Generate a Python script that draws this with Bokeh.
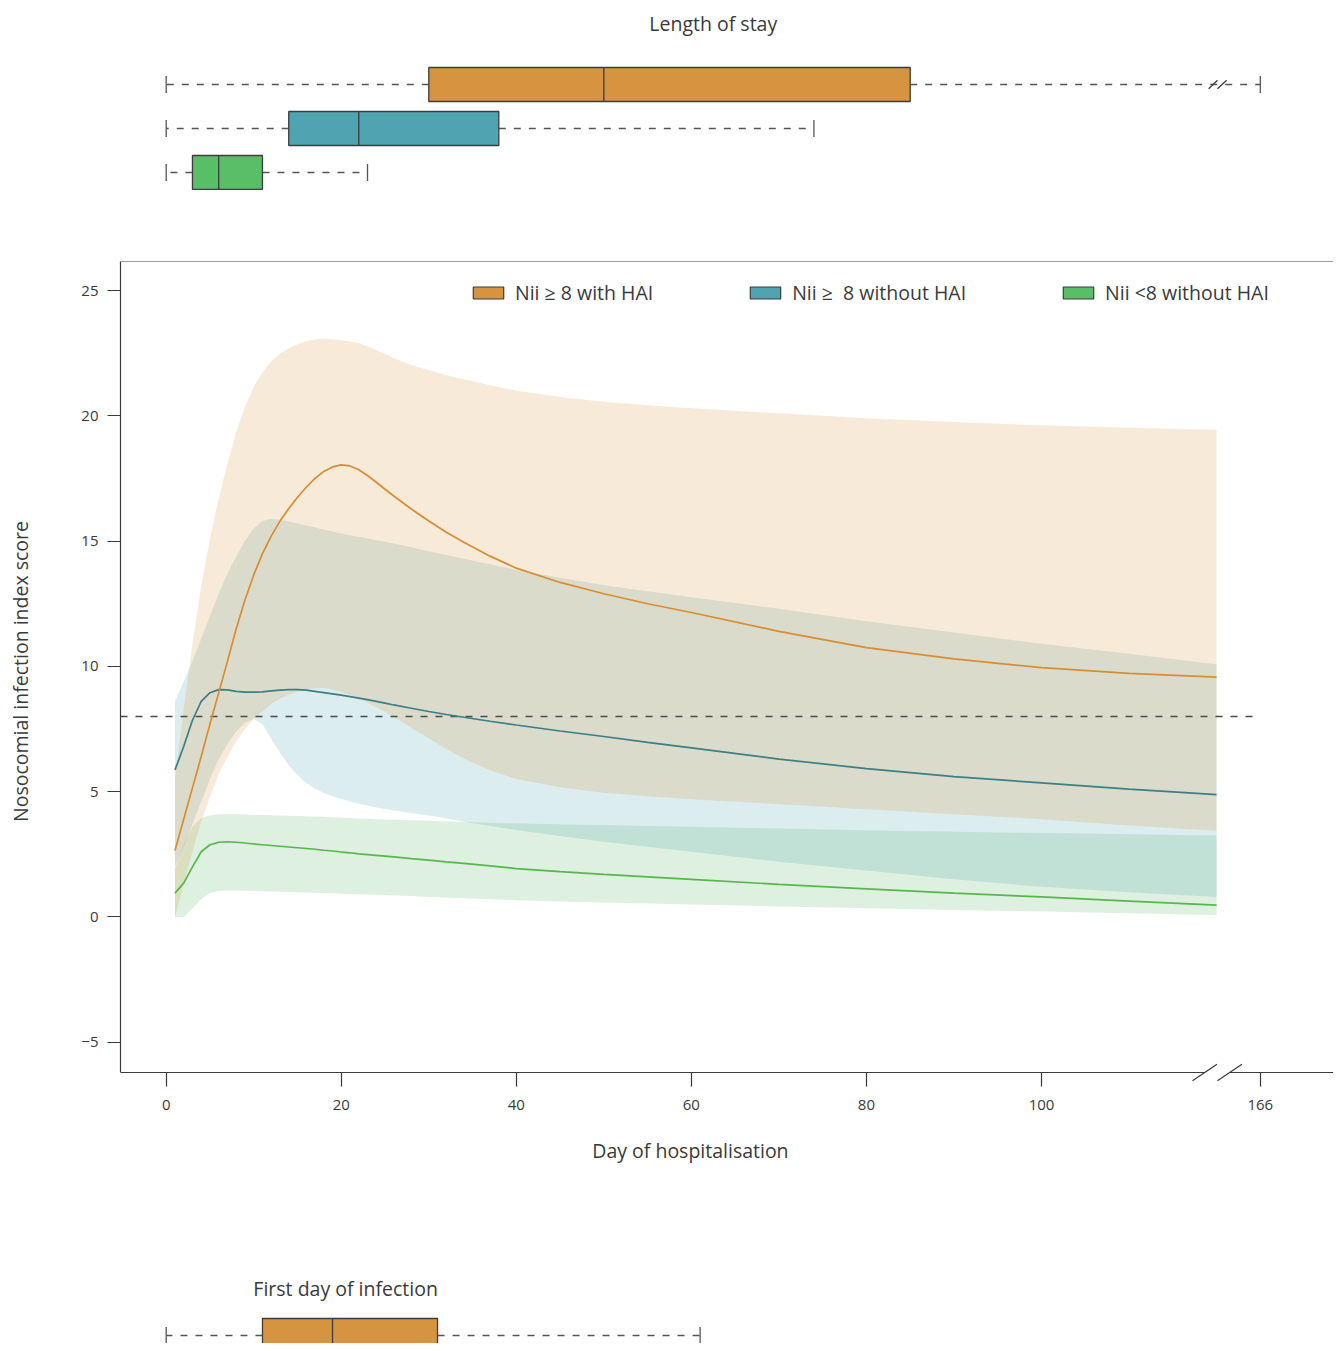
from bokeh.plotting import figure
from bokeh.layouts import column
from bokeh.models import (Range1d, FixedTicker, Span, Label, Legend, LegendItem,
                          ColumnDataSource)
from bokeh.embed import file_html
from bokeh.resources import INLINE

# ---------------- data ----------------
days = [1, 2, 3, 4, 5, 6, 7, 8, 9, 10, 11, 12, 13, 14, 15, 16, 17, 18, 19, 20, 21, 22,
        23, 24, 25, 26, 28, 30, 32, 34, 37, 40, 45, 50, 55, 60, 70, 80, 90, 100, 110, 120]

orange_mid = [2.65, 3.9, 5.15, 6.4, 7.7, 8.95, 10.2, 11.5, 12.65, 13.65, 14.5, 15.2, 15.8,
              16.3, 16.75, 17.15, 17.5, 17.78, 17.96, 18.04, 18.0, 17.85, 17.62, 17.35,
              17.07, 16.8, 16.28, 15.8, 15.35, 14.95, 14.4, 13.92, 13.35, 12.9, 12.5,
              12.15, 11.4, 10.75, 10.3, 9.95, 9.72, 9.57]
orange_hi = [5.5, 8.3, 10.9, 13.2, 15.1, 16.7, 18.1, 19.35, 20.35, 21.15, 21.75, 22.17,
             22.47, 22.7, 22.86, 22.98, 23.05, 23.08, 23.06, 23.02, 22.97, 22.9, 22.78,
             22.63, 22.47, 22.3, 22.03, 21.82, 21.63, 21.46, 21.22, 21.0, 20.75, 20.56,
             20.42, 20.3, 20.1, 19.9, 19.75, 19.62, 19.52, 19.44]
orange_lo = [0.0, 1.3, 2.6, 3.8, 4.8, 5.7, 6.4, 7.0, 7.5, 7.9, 8.2, 8.5, 8.72, 8.88, 9.0,
             9.08, 9.13, 9.14, 9.08, 8.98, 8.86, 8.72, 8.55, 8.37, 8.18, 7.98, 7.55, 7.12,
             6.7, 6.32, 5.85, 5.5, 5.18, 4.96, 4.82, 4.7, 4.5, 4.3, 4.1, 3.9, 3.65, 3.44]

blue_mid = [5.87, 6.8, 7.85, 8.6, 8.95, 9.07, 9.06, 9.0, 8.97, 8.97, 8.98, 9.02, 9.05,
            9.07, 9.07, 9.05, 9.0, 8.95, 8.9, 8.85, 8.79, 8.73, 8.67, 8.6, 8.53, 8.46,
            8.33, 8.2, 8.08, 7.97, 7.81, 7.66, 7.42, 7.2, 6.97, 6.75, 6.3, 5.92, 5.6,
            5.35, 5.1, 4.88]
blue_hi = [8.6, 9.4, 10.2, 11.1, 12.0, 12.9, 13.7, 14.4, 15.0, 15.5, 15.8, 15.88, 15.85,
           15.78, 15.7, 15.62, 15.54, 15.45, 15.38, 15.3, 15.23, 15.17, 15.1, 15.03, 14.97,
           14.9, 14.75, 14.6, 14.45, 14.3, 14.08, 13.85, 13.54, 13.24, 13.0, 12.76, 12.3,
           11.8, 11.35, 10.9, 10.5, 10.08]
blue_lo = [2.0, 2.8, 3.7, 4.6, 5.5, 6.3, 6.9, 7.4, 7.75, 7.9, 7.7, 7.1, 6.55, 6.05, 5.65,
           5.35, 5.12, 4.95, 4.82, 4.72, 4.61, 4.52, 4.44, 4.37, 4.31, 4.25, 4.15, 4.05,
           3.93, 3.8, 3.63, 3.47, 3.23, 3.0, 2.8, 2.6, 2.2, 1.85, 1.5, 1.2, 0.98, 0.8]

green_mid = [0.95, 1.35, 2.0, 2.6, 2.88, 2.98, 3.0, 2.98, 2.95, 2.91, 2.88, 2.85, 2.82,
             2.79, 2.76, 2.73, 2.7, 2.66, 2.63, 2.59, 2.56, 2.52, 2.49, 2.46, 2.43, 2.4,
             2.33, 2.27, 2.2, 2.14, 2.04, 1.93, 1.81, 1.7, 1.6, 1.5, 1.3, 1.12, 0.95, 0.8,
             0.63, 0.47]
green_hi = [1.9, 2.9, 3.6, 3.95, 4.05, 4.1, 4.1, 4.1, 4.09, 4.08, 4.07, 4.06, 4.05, 4.04,
            4.03, 4.02, 4.01, 4.0, 3.98, 3.96, 3.95, 3.93, 3.92, 3.9, 3.89, 3.88, 3.86,
            3.84, 3.81, 3.79, 3.76, 3.73, 3.7, 3.66, 3.63, 3.6, 3.53, 3.46, 3.4, 3.35,
            3.3, 3.25]
green_lo = [0.0, 0.0, 0.35, 0.72, 0.95, 1.03, 1.05, 1.05, 1.04, 1.03, 1.02, 1.01, 1.0,
            0.99, 0.98, 0.97, 0.96, 0.95, 0.94, 0.92, 0.91, 0.9, 0.89, 0.88, 0.87, 0.85,
            0.83, 0.8, 0.78, 0.75, 0.71, 0.67, 0.62, 0.58, 0.54, 0.5, 0.42, 0.35, 0.28,
            0.22, 0.15, 0.08]

group_labels = ["Nii \u2265 8 with HAI", "Nii \u2265  8 without HAI", "Nii <8 without HAI"]

# Length of stay boxplots (orange, blue, green)
los_min = [0, 0, 0]
los_q1 = [30, 14, 3]
los_med = [50, 22, 6]
los_q3 = [85, 38, 11]
los_max = [166, 74, 23]

# First day of infection (Nii >= 8 with HAI)
inf_min = [0]
inf_q1 = [11]
inf_med = [19]
inf_q3 = [31]
inf_max = [61]

x_ticks = [0, 20, 40, 60, 80, 100]
y_ticks = [-5, 0, 5, 10, 15, 20, 25]
nii_threshold = 8
break_label = 166       # real day shown after the axis break

# ---------------- style / layout ----------------
FONT = "Open Sans"
TXT = "#3a3a3a"
AX = "#3a3a3a"
EDGE = "#3c3c3c"
WHISK = "#555555"
BOX_COL = ["#D69440", "#50A3B0", "#5ABE69"]
LINE_COL = ["#D98D32", "#3C7E86", "#55B84A"]
BAND_COL = ["#D69440", "#50A3B0", "#5AB464"]

W = 1333
LEFT = 120
XR = (-5.22, 133.36)
YBOX = -6.21             # bottom edge of the plot box
YTOP = 26.16             # top edge of the plot box
PX_PER_Y = 25.07
TICK_GAP = 9             # box edge -> axis baseline (ticks start at box edge)
YR = (YBOX - TICK_GAP / PX_PER_Y, YTOP)
BREAK_POS = 125          # axis position where the real day 166 is drawn
BREAK_AT = 120.1

def axis_pos(d):
    return BREAK_POS if d >= break_label else d

x_range = Range1d(*XR)


def draw_boxes(p, rows, mins, q1s, meds, q3s, maxs, colors, half=0.386, cap=0.195):
    lo = [axis_pos(v) for v in mins]
    hi = [axis_pos(v) for v in maxs]
    src = ColumnDataSource(dict(
        row=rows, lo=lo, hi=hi, q1=q1s, med=meds, q3=q3s, color=colors,
        b=[r - half for r in rows], t=[r + half for r in rows],
        cb=[r - cap for r in rows], ct=[r + cap for r in rows]))
    p.segment(x0="q1", y0="row", x1="lo", y1="row", line_dash="7 8",
              line_color=WHISK, line_width=1.3, source=src)
    p.segment(x0="q3", y0="row", x1="hi", y1="row", line_dash="7 8",
              line_color=WHISK, line_width=1.3, source=src)
    p.segment(x0="lo", y0="cb", x1="lo", y1="ct", line_color=WHISK, line_width=1.3, source=src)
    p.segment(x0="hi", y0="cb", x1="hi", y1="ct", line_color=WHISK, line_width=1.3, source=src)
    p.quad(left="q1", right="q3", bottom="b", top="t", fill_color="color",
           line_color=EDGE, line_width=1.3, source=src)
    p.segment(x0="med", y0="b", x1="med", y1="t", line_color=EDGE, line_width=1.3, source=src)


def bare_fig(height, yr):
    f = figure(width=W, height=height, x_range=x_range, y_range=Range1d(*yr),
               toolbar_location=None, output_backend="svg", title=None,
               min_border_left=LEFT, min_border_right=0, min_border_top=0,
               min_border_bottom=0, x_axis_location=None, y_axis_location=None)
    f.grid.visible = False
    f.outline_line_color = None
    f.background_fill_color = "white"
    f.border_fill_color = "white"
    return f

# ---------------- top: length of stay ----------------
ptop = bare_fig(261, (-1.023, 4.909))
rows = [3, 2, 1]
draw_boxes(ptop, rows, los_min, los_q1, los_med, los_q3, los_max, BOX_COL)
ptop.segment(x0=[BREAK_AT - 1.0, BREAK_AT], y0=[rows[0] - 0.095] * 2,
             x1=[BREAK_AT, BREAK_AT + 1.05], y1=[rows[0] + 0.095] * 2,
             line_color=EDGE, line_width=1.3)
ptop.add_layout(Label(x=BREAK_POS / 2, y=4.386, text="Length of stay", text_align="center",
                      text_baseline="middle", text_font=FONT, text_font_size="19.5px",
                      text_color=TXT))

# ---------------- main plot ----------------
p = figure(width=W, height=864, x_range=x_range, y_range=Range1d(*YR),
           toolbar_location=None, output_backend="svg", title=None,
           min_border_left=LEFT, min_border_right=0, min_border_top=0, min_border_bottom=44)
p.grid.visible = False
p.outline_line_color = None
p.background_fill_color = "white"
p.border_fill_color = "white"

bands = [(green_lo, green_hi, BAND_COL[2]), (blue_lo, blue_hi, BAND_COL[1]),
         (orange_lo, orange_hi, BAND_COL[0])]
for lo, hi, c in bands:
    p.varea(x=days, y1=lo, y2=hi, fill_color=c, fill_alpha=0.2)

p.segment(x0=[XR[0]], y0=[nii_threshold], x1=[BREAK_POS - 0.5], y1=[nii_threshold],
          line_color="#4a4a4a", line_dash="7 8", line_width=1.3)

for mid, c in [(green_mid, LINE_COL[2]), (blue_mid, LINE_COL[1]), (orange_mid, LINE_COL[0])]:
    p.line(days, mid, line_color=c, line_width=1.7)

# plot box: bottom edge with an axis break, top edge
p.segment(x0=[XR[0], BREAK_AT + 1.4], y0=[YBOX, YBOX], x1=[BREAK_AT - 1.4, XR[1]],
          y1=[YBOX, YBOX], line_color=AX, line_width=1.2)
p.segment(x0=[BREAK_AT - 2.85, BREAK_AT], y0=[YBOX - 0.33] * 2,
          x1=[BREAK_AT - 0.05, BREAK_AT + 2.8], y1=[YBOX + 0.33] * 2,
          line_color=AX, line_width=1.2)
p.add_layout(Span(location=YTOP, dimension="width", line_color=AX, line_width=1.2))

# axes
xa = p.xaxis[0]
xa.ticker = FixedTicker(ticks=x_ticks + [BREAK_POS])
xa.major_label_overrides = {BREAK_POS: str(break_label)}
xa.axis_line_color = None
xa.major_tick_in = TICK_GAP
xa.major_tick_out = 14 - TICK_GAP
ya = p.yaxis[0]
ya.ticker = FixedTicker(ticks=y_ticks)
ya.bounds = (YBOX, YTOP)
ya.major_label_overrides = {t: ("\u2212" + str(-t) if t < 0 else str(t)) for t in y_ticks}
ya.axis_line_color = AX
ya.axis_line_width = 1.2
ya.major_tick_in = 0
ya.major_tick_out = 13
for ax in (xa, ya):
    ax.major_tick_line_color = AX
    ax.major_tick_line_width = 1.2
    ax.minor_tick_out = 0
    ax.minor_tick_in = 0
    ax.major_label_text_font = FONT
    ax.major_label_text_font_size = "15px"
    ax.major_label_text_color = TXT
xa.major_label_standoff = 13
ya.major_label_standoff = 9
ya.axis_label = "Nosocomial infection index score"
ya.axis_label_text_font = FONT
ya.axis_label_text_font_size = "19.5px"
ya.axis_label_text_font_style = "normal"
ya.axis_label_text_color = TXT
ya.axis_label_standoff = 44

# legend (solid swatches)
nan = float("nan")
items = []
for lab, c in zip(group_labels, BOX_COL):
    r = p.quad(left=[nan], right=[nan], top=[nan], bottom=[nan], fill_color=c,
               line_color=EDGE, line_width=1.2)
    items.append(LegendItem(label=lab, renderers=[r]))
legend = Legend(items=items, location=(349, 775), orientation="horizontal", padding=0,
                spacing=93, label_standoff=8, glyph_width=38, glyph_height=15,
                border_line_color=None, background_fill_alpha=0,
                label_text_font=FONT, label_text_font_size="19.5px", label_text_color=TXT)
p.add_layout(legend)

# ---------------- bottom: x title + first day of infection ----------------
pbot = bare_fig(218, (-0.182, 4.773))
pbot.add_layout(Label(x=(XR[0] + BREAK_POS) / 2, y=4.205, text="Day of hospitalisation",
                      text_align="center", text_baseline="middle", text_font=FONT,
                      text_font_size="19.5px", text_color=TXT))
draw_boxes(pbot, [0], inf_min, inf_q1, inf_med, inf_q3, inf_max, [BOX_COL[0]])
pbot.add_layout(Label(x=20.5, y=1.068, text="First day of infection", text_align="center",
                      text_baseline="middle", text_font=FONT, text_font_size="19.5px",
                      text_color=TXT))

layout = column(ptop, p, pbot, spacing=0)
open("out.html", "w").write(file_html(layout, INLINE))
